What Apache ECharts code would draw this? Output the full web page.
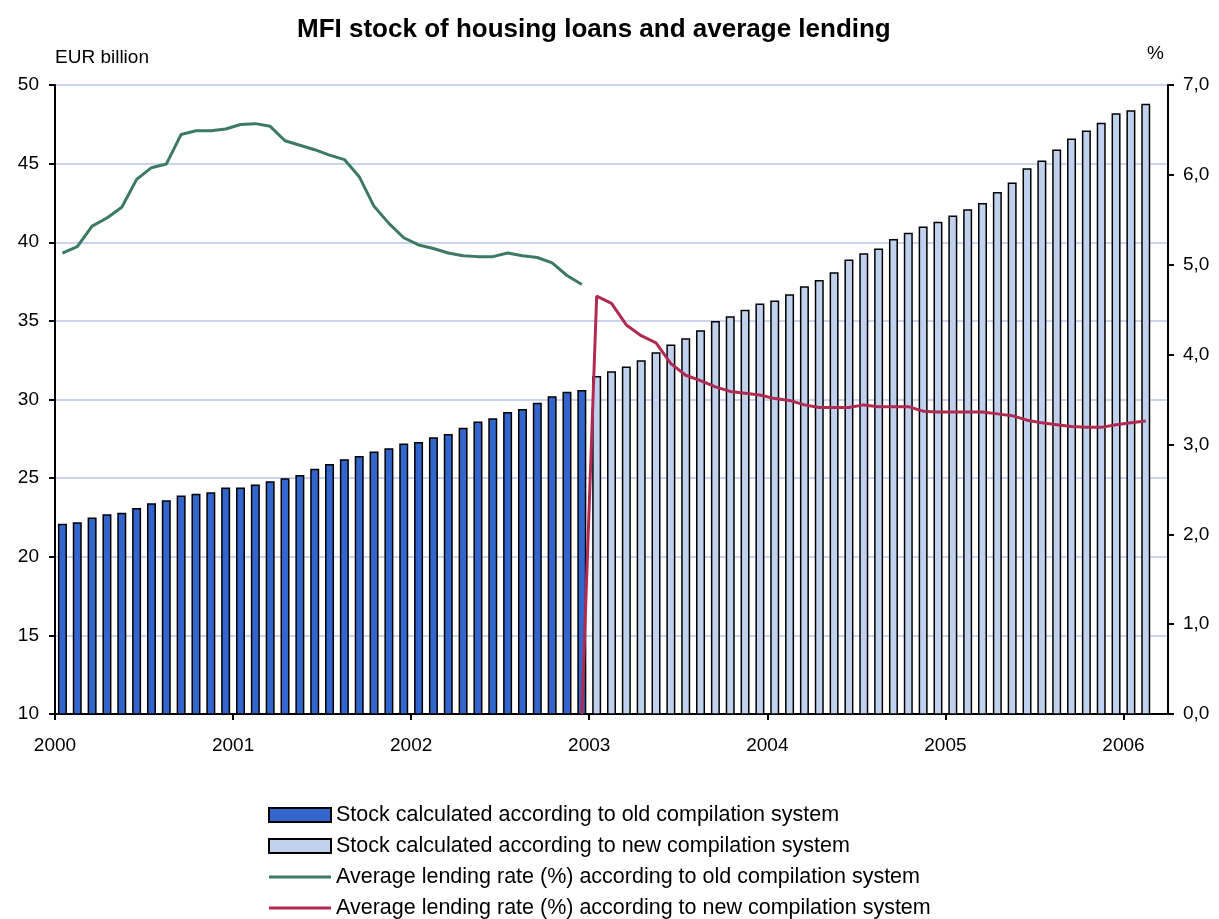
<!DOCTYPE html>
<html>
<head>
<meta charset="utf-8">
<script src="https://cdn.jsdelivr.net/npm/echarts@6/dist/echarts.min.js"></script>
<style>
  html, body { margin: 0; padding: 0; background: #fff; }
  #main { width: 1219px; height: 919px; }
</style>
</head>
<body>
<div id="main"></div>
<script>
// monthly categories Jan 2000 - Mar 2006
var months = [];
for (var y = 2000; y <= 2006; y++) {
  for (var m = 1; m <= 12; m++) {
    if (y === 2006 && m > 3) break;
    months.push(y + '-' + (m < 10 ? '0' + m : m));
  }
}
var yearLabels = ['2000', '2001', '2002', '2003', '2004', '2005', '2006'];

// EUR billion, Jan 2000 - Dec 2002
var stockOld = [22.1, 22.2, 22.5, 22.7, 22.8, 23.1, 23.4, 23.6, 23.9, 24.0, 24.1, 24.4,
  24.4, 24.6, 24.8, 25.0, 25.2, 25.6, 25.9, 26.2, 26.4, 26.7, 26.9, 27.2,
  27.3, 27.6, 27.8, 28.2, 28.6, 28.8, 29.2, 29.4, 29.8, 30.2, 30.5, 30.6];
// EUR billion, Jan 2003 - Feb 2006
var stockNew = [31.5, 31.8, 32.1, 32.5, 33.0, 33.5, 33.9, 34.4, 35.0, 35.3, 35.7, 36.1,
  36.3, 36.7, 37.2, 37.6, 38.1, 38.9, 39.3, 39.6, 40.2, 40.6, 41.0, 41.3,
  41.7, 42.1, 42.5, 43.2, 43.8, 44.7, 45.2, 45.9, 46.6, 47.1, 47.6, 48.2,
  48.4, 48.8];
// %, Jan 2000 - Dec 2002
var rateOld = [5.13, 5.20, 5.43, 5.52, 5.64, 5.95, 6.08, 6.12, 6.45, 6.49, 6.49, 6.51,
  6.56, 6.57, 6.54, 6.38, 6.33, 6.28, 6.22, 6.17, 5.98, 5.65, 5.46, 5.30,
  5.22, 5.18, 5.13, 5.10, 5.09, 5.09, 5.13, 5.10, 5.08, 5.02, 4.88, 4.78];
// %, Dec 2002 - Feb 2006
var rateNew = [0, 4.65, 4.57, 4.33, 4.21, 4.13, 3.90, 3.77, 3.71, 3.64, 3.59, 3.57, 3.55,
  3.51, 3.49, 3.44, 3.41, 3.41, 3.41, 3.44, 3.42, 3.42, 3.42, 3.37, 3.36,
  3.36, 3.36, 3.36, 3.34, 3.32, 3.27, 3.24, 3.22, 3.20, 3.19, 3.19, 3.22,
  3.24, 3.26];

function place(arr, start) {
  var out = [];
  for (var i = 0; i < months.length; i++) {
    var k = i - start;
    out.push(k >= 0 && k < arr.length ? arr[k] : null);
  }
  return out;
}

var yearTicks = [];
for (var j = 0; j < yearLabels.length; j++) yearTicks.push(j * 12);

var font = 'Liberation Sans, Arial, sans-serif';
// thin horizontal bar inside a 62x14 box, used as legend icon for the lines
var lineIcon = 'path://M0,0 M62,14 M0,5.5 L62,5.5 L62,8.5 L0,8.5 Z';

var chart = echarts.init(document.getElementById('main'));
chart.setOption({
  animation: false,
  title: {
    text: 'MFI stock of housing loans and average lending',
    left: 292,
    top: 12,
    textStyle: { fontFamily: font, fontSize: 26, fontWeight: 'bold', color: '#000' }
  },
  grid: { left: 55, right: 51, top: 85, bottom: 205 },
  legend: {
    orient: 'vertical',
    left: 268,
    top: 804,
    height: 130,
    padding: 0,
    itemWidth: 62,
    itemHeight: 14,
    itemGap: 9,
    textStyle: { fontFamily: font, fontSize: 21.5, color: '#000' },
    data: [
      { name: 'Stock calculated according to old compilation system', icon: 'rect' },
      { name: 'Stock calculated according to new compilation system', icon: 'rect' },
      { name: 'Average lending rate (%) according to old compilation system', icon: lineIcon },
      { name: 'Average lending rate (%) according to new compilation system', icon: lineIcon }
    ]
  },
  xAxis: [
    {
      type: 'category',
      data: months,
      boundaryGap: true,
      axisLine: { lineStyle: { color: '#000', width: 2 } },
      axisTick: { show: false },
      axisLabel: { show: false }
    },
    {
      type: 'value',
      min: 0,
      max: months.length,
      position: 'bottom',
      splitLine: { show: false },
      axisLine: { show: false },
      axisTick: { show: true, length: 6, customValues: yearTicks, lineStyle: { color: '#000', width: 2 } },
      axisLabel: {
        customValues: yearTicks,
        margin: 22,
        fontFamily: font, fontSize: 19, color: '#000',
        formatter: function (v) { return yearLabels[Math.round(v / 12)]; }
      }
    }
  ],
  yAxis: [
    {
      type: 'value',
      min: 10, max: 50, interval: 5,
      name: 'EUR billion',
      nameLocation: 'end',
      nameGap: 18,
      nameTextStyle: { fontFamily: font, fontSize: 19, color: '#000', align: 'left', padding: [0, 0, 0, 0] },
      axisLine: { show: true, lineStyle: { color: '#000', width: 2 } },
      axisTick: { show: true, length: 6, lineStyle: { color: '#000', width: 2 } },
      axisLabel: { fontFamily: font, fontSize: 19, color: '#000', margin: 16 },
      splitLine: { lineStyle: { color: '#b9c5ee', width: 1.5 } }
    },
    {
      type: 'value',
      min: 0, max: 7, interval: 1,
      name: '%',
      nameLocation: 'end',
      nameGap: 22,
      nameTextStyle: { fontFamily: font, fontSize: 19, color: '#000', align: 'right', padding: [0, 4, 0, 0] },
      axisLine: { show: true, lineStyle: { color: '#000', width: 2 } },
      axisTick: { show: true, length: 6, lineStyle: { color: '#000', width: 2 } },
      axisLabel: {
        fontFamily: font, fontSize: 19, color: '#000', margin: 15,
        formatter: function (v) { return v.toFixed(1).replace('.', ','); }
      },
      splitLine: { show: false }
    }
  ],
  series: [
    {
      name: 'Stock calculated according to old compilation system',
      type: 'bar',
      xAxisIndex: 0, yAxisIndex: 0,
      data: place(stockOld, 0),
      barWidth: 9,
      barGap: '-100%',
      itemStyle: { color: '#3366cc', borderColor: '#000', borderWidth: 1.5 }
    },
    {
      name: 'Stock calculated according to new compilation system',
      type: 'bar',
      xAxisIndex: 0, yAxisIndex: 0,
      data: place(stockNew, 36),
      barWidth: 9,
      barGap: '-100%',
      itemStyle: { color: '#c0d1ee', borderColor: '#000', borderWidth: 1.5 }
    },
    {
      name: 'Average lending rate (%) according to old compilation system',
      type: 'line',
      xAxisIndex: 0, yAxisIndex: 1,
      data: place(rateOld, 0),
      symbol: 'none',
      lineStyle: { color: '#3c7a62', width: 3 },
      itemStyle: { color: '#3c7a62' }
    },
    {
      name: 'Average lending rate (%) according to new compilation system',
      type: 'line',
      xAxisIndex: 0, yAxisIndex: 1,
      data: place(rateNew, 35),
      symbol: 'none',
      lineStyle: { color: '#b02a52', width: 3 },
      itemStyle: { color: '#b02a52' }
    }
  ]
});
</script>
</body>
</html>
